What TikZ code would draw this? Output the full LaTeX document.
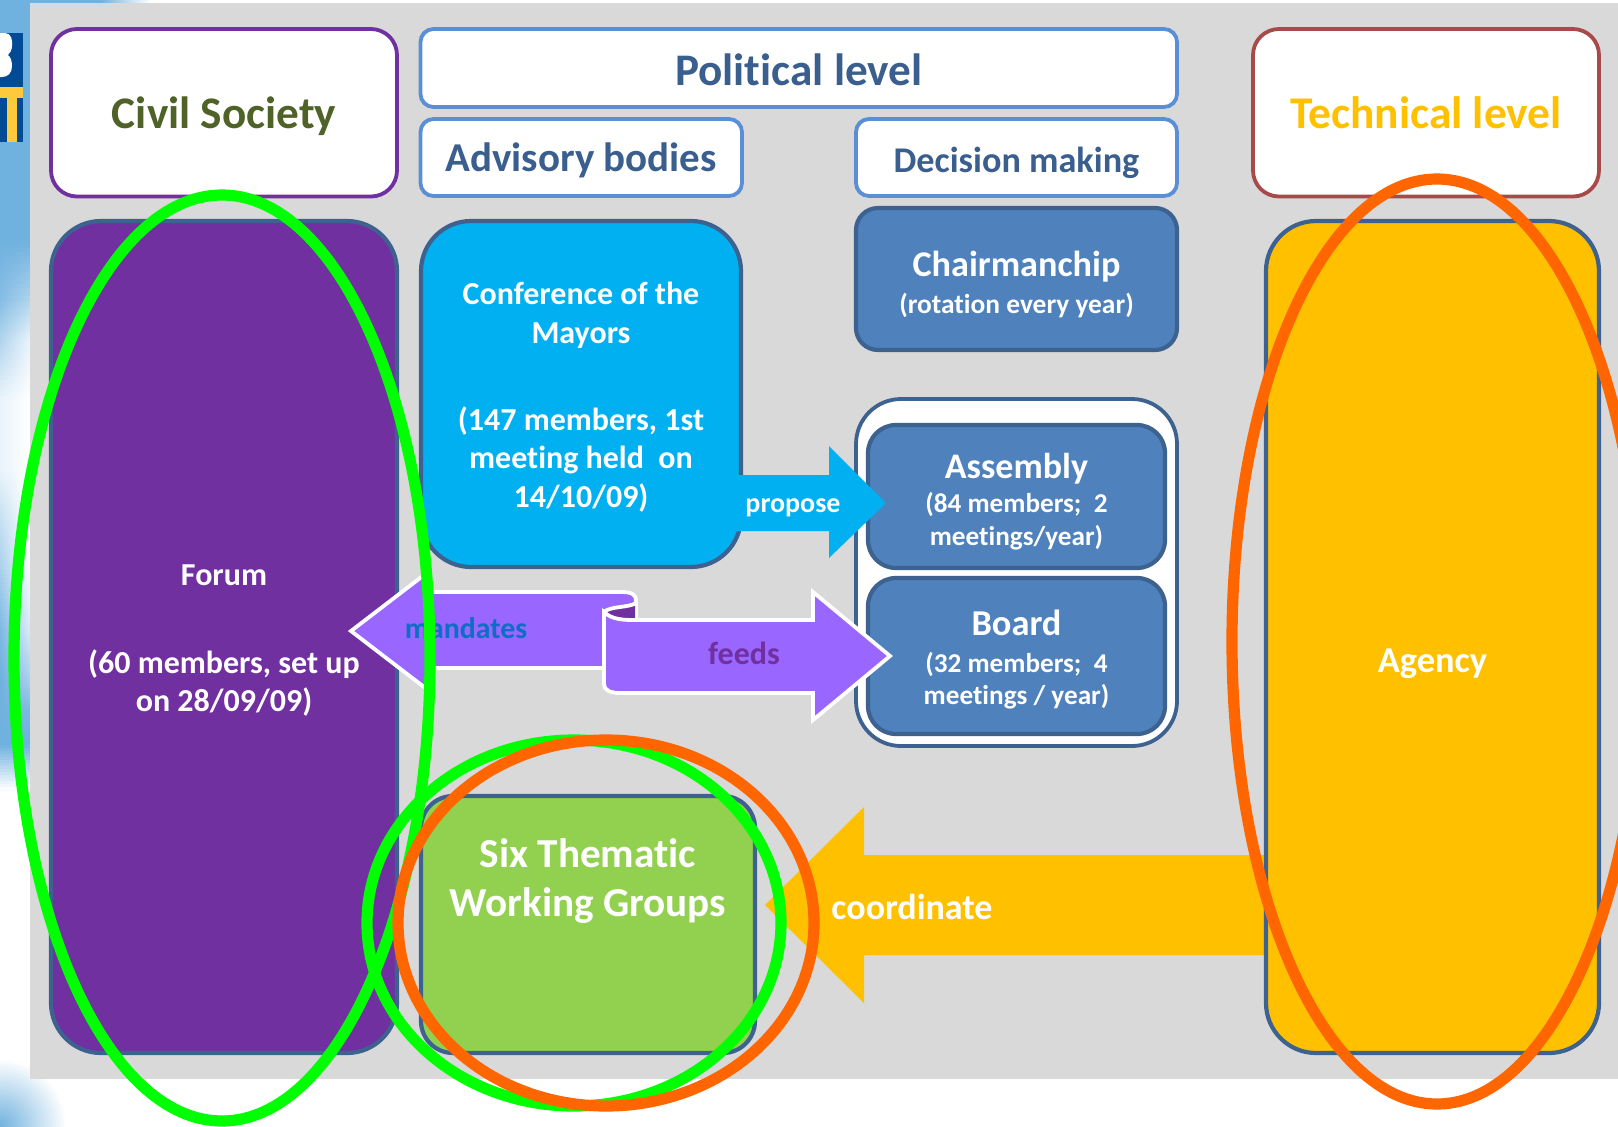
\documentclass[tikz,border=0pt]{standalone}
\usepackage{fontspec}
\setmainfont[Ligatures=NoCommon]{Carlito}
\usetikzlibrary{calc}
\definecolor{panel}{HTML}{D9D9D9}
\definecolor{skyb}{HTML}{6FB1DF}
\definecolor{navy}{HTML}{004B93}
\definecolor{logoy}{HTML}{FFC93C}
\definecolor{edge}{HTML}{3E6290}
\definecolor{pur}{HTML}{7030A0}
\definecolor{cyanb}{HTML}{00B0F0}
\definecolor{steel}{HTML}{4F81BD}
\definecolor{leaf}{HTML}{92D050}
\definecolor{amber}{HTML}{FFC000}
\definecolor{lilac}{HTML}{9966FF}
\definecolor{capblue}{HTML}{3A5F8E}
\definecolor{headedge}{HTML}{5A8FD6}
\definecolor{rededge}{HTML}{A94A4A}
\definecolor{olive}{HTML}{4F6228}
\definecolor{mandc}{HTML}{0B6FC4}
\definecolor{ring}{HTML}{00FF00}
\definecolor{ringo}{HTML}{FF6600}
\newcommand\fs[2]{\fontsize{#1}{#2}\selectfont}
\newcommand\low[2]{\raisebox{-#1pt}[\height][\depth]{#2}}
\newcommand\bx[7]{\node[#2,rounded corners=#7*0.5pt,minimum width={(#5-#3)*0.5pt},minimum height={(#6-#4)*0.5pt}] (#1) at ({(#3+#5)/2},{(#4+#6)/2})}
\tikzset{
  basebox/.style={rectangle,draw,inner sep=0pt,align=center,font=\bfseries,line width=1.9pt},
  headbox/.style={basebox,draw=headedge,fill=white,text=capblue},
  civilbox/.style={basebox,draw=pur,fill=white,text=olive},
  techbox/.style={basebox,draw=rededge,fill=white,text=amber},
  bodybox/.style={basebox,line width=2.1pt,draw=edge,text=white},
  purplebox/.style={bodybox,fill=pur},
  cyanbox/.style={bodybox,fill=cyanb},
  steelbox/.style={bodybox,fill=steel},
  leafbox/.style={bodybox,fill=leaf},
  amberbox/.style={bodybox,fill=amber},
  holdbox/.style={basebox,draw=edge,fill=white},
  ringg/.style={draw=ring,line width=5.6pt},
  ringr/.style={draw=ringo,line width=5.6pt},
  tag/.style={inner sep=0pt},
  ribbon/.style={fill=lilac,draw=white,line width=1.9pt,line join=miter}
}
\begin{document}
\begin{tikzpicture}[x=0.5pt,y=-0.5pt]
\useasboundingbox (0,0) rectangle (1618,1126);
\fill[white] (0,0) rectangle (1618,1126);
% backdrop
\fill[skyb] (0,0) rectangle (30,241);
\fill[skyb] (30,0) rectangle (100,3);
\shade[left color=skyb,right color=white] (100,0) rectangle (150,3);
\foreach \ya/\la/\ra/\yb/\lb/\rb in {240/0/0/300/15/45,300/15/45/340/45/85,340/45/85/400/85/100,400/85/100/470/85/100,470/85/100/520/60/100,520/60/100/570/40/95,570/40/95/630/10/75,630/10/75/680/0/40,680/0/40/710/0/10,710/0/10/745/0/0,745/0/0/790/100/100}{
  \foreach \t in {0,...,14}{
    \pgfmathsetmacro\yy{\ya+(\yb-\ya)*\t/15}
    \pgfmathsetmacro\yz{\ya+(\yb-\ya)*(\t+1)/15+1}
    \pgfmathsetmacro\ll{\la+(\lb-\la)*(\t+0.5)/15}
    \pgfmathsetmacro\rr{\ra+(\rb-\ra)*(\t+0.5)/15}
    \shade[left color=white!\ll!skyb,right color=white!\rr!skyb] (0,\yy) rectangle (30,\yz);
  }
}
\begin{scope}
\clip (0,1000) rectangle (200,1126);
\foreach \r in {66,64,...,2}{
  \pgfmathsetmacro\w{100*\r/68}
  \fill[white!\w!skyb] (0,1126) circle[radius=\r];
}
\end{scope}
% logo fragment
\fill[navy] (0,33) rectangle (23,142);
\fill[logoy] (0,87) rectangle (23,98);
\fill[logoy] (7,98) rectangle (17,142);
\fill[white] (0,33) -- (5,33) .. controls (11,33) and (13,40) .. (12,46) .. controls (12,50) and (10,53) .. (8,55) .. controls (11,57) and (12,62) .. (12,66) .. controls (12,73) and (8,77) .. (2,77) -- (0,77) -- cycle;
% panel
\fill[panel] (30,3) rectangle (1618,1079);
% heading boxes
\bx{civil}{civilbox}{51}{29}{397}{196.5}{26} {\low{1.8}{\fs{22.6}{26}Civil Society}};
\bx{political}{headbox}{420.5}{29}{1177}{107}{13} {\low{1}{\fs{22.6}{26}Political level}};
\bx{advisory}{headbox}{420.5}{119}{742}{196}{13} {\low{1.5}{\fs{20.5}{24}Advisory bodies}};
\bx{decision}{headbox}{856}{119}{1177}{196}{13} {\low{2.6}{\fs{18.1}{22}Decision making}};
\bx{technical}{techbox}{1253}{29}{1599}{196.5}{26} {\fs{22.7}{26}Technical level};
\fill[amber] (1270,855) coordinate (cos) -- (864,855) -- (864,807) -- (765,905) coordinate (cot) -- (864,1003) -- (864,955) -- (1270,955) -- cycle;
% body boxes
\bx{forum}{purplebox,font=\bfseries\fs{16}{19}}{51}{221}{397}{1053}{50} {\rule{0pt}{14.3pt}Forum\\[25pt](60 members, set up\\on 28/09/09)};
\bx{conf}{cyanbox,font=\bfseries\fs{16}{19.2}}{421}{221}{741}{567}{50} {\rule{0pt}{14.3pt}Conference of the\\[0.3pt]Mayors\\[24.3pt](147 members, 1st\\meeting held\ \ on\\14/10/09)};
\bx{chair}{steelbox,font=\bfseries\fs{13.7}{18.4}}{856}{208}{1177}{350}{22} {\rule{0pt}{17.8pt}{\fs{18.1}{19}Chairmanchip}\\(rotation every year)};
\bx{hold}{holdbox}{856}{399}{1177}{746}{45} {};
\bx{assembly}{steelbox,font=\bfseries\fs{13.6}{16.5}}{868}{425}{1165}{568}{28} {\rule{0pt}{17.8pt}{\fs{18}{19}Assembly}\\[0.6pt](84 members;\ \ 2\\meetings/year)};
\bx{board}{steelbox,font=\bfseries\fs{13.6}{15.8}}{868}{578}{1165}{734}{28} {\rule{0pt}{16.4pt}{\fs{18.2}{19}Board}\\[2.8pt](32 members;\ \ 4\\meetings / year)};
\bx{six}{leafbox,font=\bfseries\fs{20.6}{24.8}}{421}{796}{755}{1053}{32} {Six Thematic\\Working Groups\\[22pt]\mbox{}};
\bx{agency}{amberbox}{1266}{221}{1599}{1053}{50} {\low{13.6}{\fs{18.2}{22}Agency}};
\fill[cyanb] (735,475) coordinate (prs) -- (829,475) -- (829,446) -- (886,503) coordinate (prt) -- (829,558) -- (829,531) -- (735,531) -- cycle;
% mandates / feeds ribbon
\draw[ribbon] (351,631) coordinate (mat) -- (428,572) -- (428,592) -- (622,592) .. controls (632,592) and (636,595) .. (636,600) -- (636,622) -- (604,668) -- (428,668) -- (428,690) -- cycle;
\fill[pur] (606,610) .. controls (615,606) and (628,608) .. (635,604) -- (635,619) -- (606,619) -- cycle;
\draw[ribbon] (604,612) .. controls (612,620) and (625,620) .. (636,620) -- (813,620) -- (813,592) -- (890,656) coordinate (fet) -- (813,720) -- (813,693) -- (620,693) .. controls (610,693) and (604,690) .. (604,684) -- cycle;
\draw[white,line width=1.9pt] (604,612) .. controls (610,606) and (628,608) .. (636,603);
% arrow labels
\node[tag,text=white,font=\bfseries\fs{14}{16}] (lprop) at (793,508) {propose};
\node[tag,text=white,font=\bfseries\fs{18}{20}] (lcoord) at (912,907) {coordinate};
\node[tag,text=mandc,font=\bfseries\fs{14.9}{16}] (lmand) at (466,628) {mandates};
\node[tag,text=pur,font=\bfseries\fs{16}{18}] (lfeed) at (744,653) {feeds};
% hand-drawn rings
\draw[ringg] (222,658) ellipse[x radius=208,y radius=463];
\draw[ringg] (574,923) ellipse[x radius=207,y radius=183];
\draw[ringr] (606,923) ellipse[x radius=208,y radius=183];
\draw[ringr] (1437,641.5) ellipse[x radius=205,y radius=462.5];
\end{tikzpicture}
\end{document}
